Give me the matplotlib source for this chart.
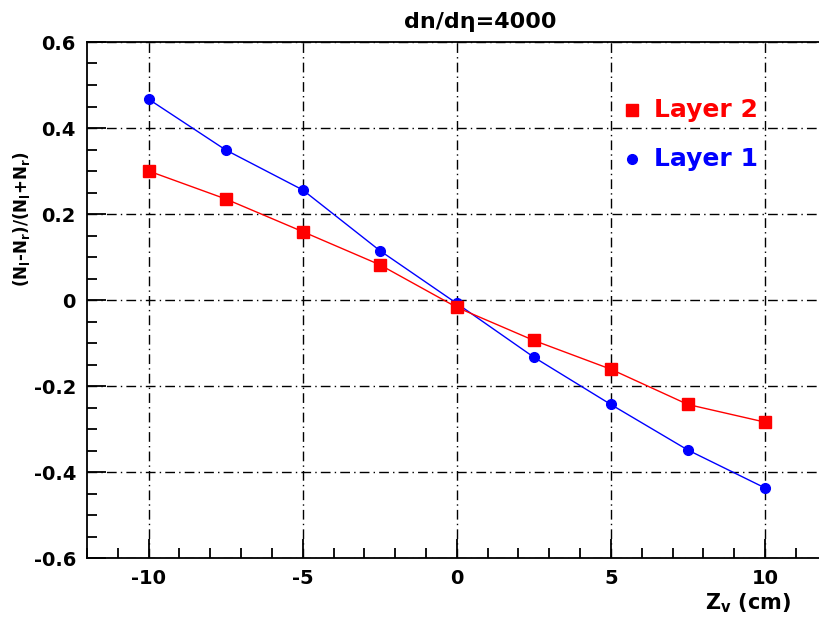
import matplotlib
matplotlib.use('Agg')
import matplotlib.pyplot as plt
from matplotlib.ticker import MultipleLocator

# data
zv = [-10, -7.5, -5, -2.5, 0, 2.5, 5, 7.5, 10]
layer1 = [0.467, 0.349, 0.256, 0.115, -0.008, -0.133, -0.243, -0.349, -0.437]
layer2 = [0.300, 0.235, 0.159, 0.082, -0.017, -0.094, -0.161, -0.243, -0.284]

plt.rcParams['font.family'] = ['DejaVu Sans']
plt.rcParams['font.weight'] = 'bold'
plt.rcParams['mathtext.default'] = 'regular'

fig = plt.figure(figsize=(8.19, 6.18), dpi=100)
W, H = 819, 618
# axes frame runs past the right edge of the image, as in the reference
x_right = (845 - 457) / 30.8
ax = fig.add_axes([87 / W, 1 - 558 / H, (845 - 87) / W, (558 - 42) / H])

ax.plot(zv, layer1, color='blue', lw=1, marker='o', ms=7, zorder=3)
ax.plot(zv, layer2, color='red', lw=1, marker='s', ms=8, zorder=4)

ax.set_xlim(-12, x_right)
ax.set_ylim(-0.6, 0.6)
ax.xaxis.set_minor_locator(MultipleLocator(1))
ax.yaxis.set_minor_locator(MultipleLocator(0.05))
ax.tick_params(which='both', direction='in', top=False, right=False,
               labelsize=14, width=1.3)
ax.tick_params(which='major', length=14, pad=8)
ax.tick_params(which='minor', length=7)
ax.set_xticks([-10, -5, 0, 5, 10])
ax.set_xticklabels(['-10', '-5', '0', '5', '10'])
ax.set_yticks([-0.6, -0.4, -0.2, 0, 0.2, 0.4, 0.6])
ax.set_yticklabels(['-0.6', '-0.4', '-0.2', '0', '0.2', '0.4', '0.6'])
for lab in ax.get_xticklabels() + ax.get_yticklabels():
    lab.set_fontweight('bold')

ax.grid(True, which='major', color='black', lw=1, linestyle=(0, (7, 3, 1, 3)))
for sp in ax.spines.values():
    sp.set_linewidth(1.3)

fig.text(480 / W, 1 - 22 / H, 'dn/d\u03b7=4000', ha='center', va='center',
         fontsize=16, fontweight='bold')
fig.text(22 / W, 1 - 219 / H, '(N$_{l}$-N$_{r}$)/(N$_{l}$+N$_{r}$)',
         rotation=90, ha='center', va='center', fontsize=12, fontweight='bold')
fig.text(748 / W, 1 - 603 / H, 'Z$_{v}$ (cm)', ha='center', va='center',
         fontsize=15, fontweight='bold')

# legend drawn as text, like the ROOT pave
ax.plot([5.7], [0.443], marker='s', color='red', ms=8, clip_on=False)
ax.text(6.4, 0.443, 'Layer 2', color='red', fontsize=18, fontweight='bold', va='center')
ax.plot([5.7], [0.327], marker='o', color='blue', ms=7, clip_on=False)
ax.text(6.4, 0.327, 'Layer 1', color='blue', fontsize=18, fontweight='bold', va='center')

fig.savefig('out.png', dpi=100)
